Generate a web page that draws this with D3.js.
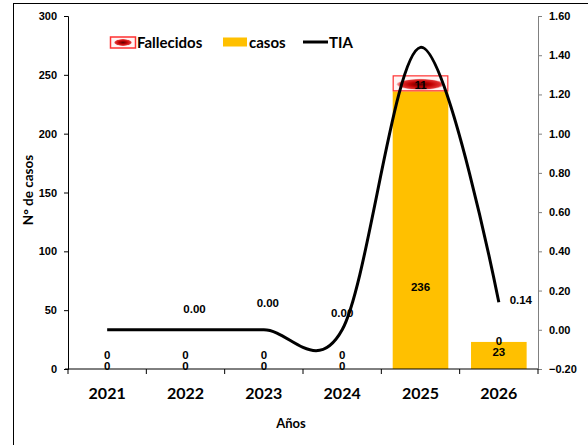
<!DOCTYPE html>
<html>
<head>
<meta charset="utf-8">
<script src="https://cdn.jsdelivr.net/npm/d3@7"></script>
<style>
  body { margin: 0; background: #fff; }
  svg text { font-family: "Liberation Sans", Arial, sans-serif; font-weight: bold; fill: #000; }
  .cal { font-family: Lato, "Liberation Sans", sans-serif; }
</style>
</head>
<body>
<div class="chart"></div>
<script>
// datos
var years = ["2021", "2022", "2023", "2024", "2025", "2026"];
var casos = [0, 0, 0, 0, 236, 23];
var fallecidos = [0, 0, 0, 0, 11, 0];
var tia = [0.00, 0.00, 0.00, 0.00, 1.44, 0.14];
var tiaLabels = [null, "0.00", "0.00", "0.00", null, "0.14"];
var leftTicks = [0, 50, 100, 150, 200, 250, 300];
var rightTicks = [-0.2, 0, 0.2, 0.4, 0.6, 0.8, 1.0, 1.2, 1.4, 1.6];

// tamaño
var w = 588, h = 445;
var pLeft = 68, pRight = 538, pTop = 16, pBottom = 369;

var svg = d3.select(".chart").append("svg")
    .attr("width", w)
    .attr("height", h);

// gradiente para el simbolo de fallecidos
var defs = svg.append("defs");
var rg = defs.append("radialGradient").attr("id", "elip")
    .attr("cx", "50%").attr("cy", "50%").attr("r", "50%");
rg.append("stop").attr("offset", "0%").attr("stop-color", "#5a0000");
rg.append("stop").attr("offset", "45%").attr("stop-color", "#c00000");
rg.append("stop").attr("offset", "85%").attr("stop-color", "#e03030");
rg.append("stop").attr("offset", "100%").attr("stop-color", "#f8c8c8");

// marco
svg.append("rect")
    .attr("x", 13.5).attr("y", 3.5)
    .attr("width", 600).attr("height", 460)
    .attr("fill", "none").attr("stroke", "#000").attr("stroke-width", 1);

var x = d3.scaleBand().domain(years).range([pLeft, pRight])
    .paddingInner(0.29).paddingOuter(0.145);
var yL = d3.scaleLinear().domain([0, 300]).range([pBottom, pTop]);
var yR = d3.scaleLinear().domain([-0.2, 1.6]).range([pBottom, pTop]);

// eje izquierdo
var axL = svg.append("g").attr("transform", "translate(" + pLeft + ",0)")
    .call(d3.axisLeft(yL).tickValues(leftTicks).tickSize(4).tickPadding(7).tickFormat(d3.format("d")));
axL.select(".domain").attr("stroke", "#000");
axL.selectAll("text").style("font-size", "11px");

// eje derecho
var axR = svg.append("g").attr("transform", "translate(" + pRight + ",0)")
    .call(d3.axisRight(yR).tickValues(rightTicks).tickSize(4).tickPadding(7).tickFormat(d3.format(".2f")));
axR.selectAll("path, line").attr("stroke", "#808080");
axR.selectAll("text").style("font-size", "11px");

var data = years.map(function(d, i) {
    return { year: d, casos: casos[i], fall: fallecidos[i], tia: tia[i], tl: tiaLabels[i] };
});

// barras casos
svg.selectAll("rect.casos").data(data).enter().append("rect")
    .attr("class", "casos")
    .attr("x", function(d) { return x(d.year); })
    .attr("y", function(d) { return yL(d.casos); })
    .attr("width", x.bandwidth())
    .attr("height", function(d) { return yL(0) - yL(d.casos); })
    .attr("fill", "#FFC000");

// fallecidos apilado encima
var fg = svg.selectAll("g.fall").data(data.filter(function(d) { return d.fall > 0; }))
    .enter().append("g").attr("class", "fall");
fg.append("rect")
    .attr("x", function(d) { return x(d.year) + 0.5; })
    .attr("y", function(d) { return yL(d.casos + d.fall) - 2.5; })
    .attr("width", x.bandwidth() - 1)
    .attr("height", function(d) { return yL(d.casos) - yL(d.casos + d.fall) + 2; })
    .attr("fill", "#fff5f5").attr("stroke", "#ff3030").attr("stroke-width", 1.2);
fg.append("ellipse")
    .attr("cx", function(d) { return x(d.year) + x.bandwidth() / 2; })
    .attr("cy", function(d) { return (yL(d.casos) + yL(d.casos + d.fall)) / 2 - 0.5; })
    .attr("rx", x.bandwidth() / 2 - 4)
    .attr("ry", 5.5)
    .attr("fill", "url(#elip)");

// eje x
var axX = svg.append("g").attr("transform", "translate(0," + pBottom + ")");
axX.append("line").attr("x1", pLeft - 3).attr("x2", pRight).attr("stroke", "#000");
axX.selectAll("line.tk").data(d3.range(years.length + 1)).enter().append("line")
    .attr("class", "tk")
    .attr("x1", function(i) { return pLeft + i * x.step(); })
    .attr("x2", function(i) { return pLeft + i * x.step(); })
    .attr("y1", 0).attr("y2", 5).attr("stroke", "#000");
axX.selectAll("text").data(years).enter().append("text")
    .attr("class", "cal")
    .attr("x", function(d) { return x(d) + x.bandwidth() / 2; })
    .attr("y", 30)
    .attr("text-anchor", "middle")
    .style("font-size", "16px")
    .text(function(d) { return d; });

// linea TIA
var line = d3.line()
    .x(function(d) { return x(d.year) + x.bandwidth() / 2; })
    .y(function(d) { return yR(d.tia); })
    .curve(d3.curveCardinal.tension(0));
svg.append("path").datum(data)
    .attr("d", line)
    .attr("fill", "none")
    .attr("stroke", "#000")
    .attr("stroke-width", 3);

// etiquetas casos
var casosNudge = { "2025": 60 };
function casosLabelY(d) {
    return (yL(0) + yL(d.casos)) / 2 - 3 + (casosNudge[d.year] || 0);
}
svg.selectAll("text.lc").data(data).enter().append("text")
    .attr("class", "lc")
    .attr("x", function(d) { return x(d.year) + x.bandwidth() / 2; })
    .attr("y", function(d) { return casosLabelY(d); })
    .attr("dy", "0.35em")
    .attr("text-anchor", "middle")
    .style("font-size", "11.5px")
    .text(function(d) { return d.casos; });

// etiquetas fallecidos
svg.selectAll("text.lf").data(data).enter().append("text")
    .attr("class", "lf")
    .attr("x", function(d) { return x(d.year) + x.bandwidth() / 2; })
    .attr("y", function(d) {
        var c = (yL(d.casos) + yL(d.casos + d.fall)) / 2;
        return Math.min(c, casosLabelY(d) - 11);
    })
    .attr("dy", "0.35em")
    .attr("text-anchor", "middle")
    .style("font-size", "11.5px")
    .text(function(d) { return d.fall; });

// etiquetas TIA
var tiaNudge = { "2022": [9, -21], "2023": [4, -27], "2024": [0, -17], "2026": [22, -2] };
svg.selectAll("text.lt").data(data.filter(function(d) { return d.tl; })).enter().append("text")
    .attr("class", "lt")
    .attr("x", function(d) { return x(d.year) + x.bandwidth() / 2 + tiaNudge[d.year][0]; })
    .attr("y", function(d) { return yR(d.tia) + tiaNudge[d.year][1]; })
    .attr("dy", "0.35em")
    .attr("text-anchor", "middle")
    .style("font-size", "11.5px")
    .text(function(d) { return d.tl; });

// titulos de ejes
svg.append("text").attr("class", "cal")
    .attr("transform", "translate(33,190) rotate(-90)")
    .attr("text-anchor", "middle")
    .style("font-size", "13.5px")
    .text("N° de casos");
svg.append("text").attr("class", "cal")
    .attr("x", 291).attr("y", 428)
    .attr("text-anchor", "middle")
    .style("font-size", "13px")
    .text("Años");

// leyenda
var lg = svg.append("g");
lg.append("rect").attr("x", 110.5).attr("y", 37).attr("width", 25).attr("height", 11)
    .attr("fill", "#fff5f5").attr("stroke", "#ff3030").attr("stroke-width", 1.5);
lg.append("ellipse").attr("cx", 123).attr("cy", 42.5).attr("rx", 9).attr("ry", 3.5)
    .attr("fill", "url(#elip)");
lg.append("text").attr("class", "cal").attr("x", 137).attr("y", 48)
    .style("font-size", "15px").text("Fallecidos");
lg.append("rect").attr("x", 223).attr("y", 37.5).attr("width", 24).attr("height", 9)
    .attr("fill", "#FFC000");
lg.append("text").attr("class", "cal").attr("x", 249).attr("y", 48)
    .style("font-size", "15px").text("casos");
lg.append("line").attr("x1", 303).attr("x2", 328).attr("y1", 42).attr("y2", 42)
    .attr("stroke", "#000").attr("stroke-width", 3);
lg.append("text").attr("class", "cal").attr("x", 329).attr("y", 48)
    .style("font-size", "15px").text("TIA");
</script>
</body>
</html>
